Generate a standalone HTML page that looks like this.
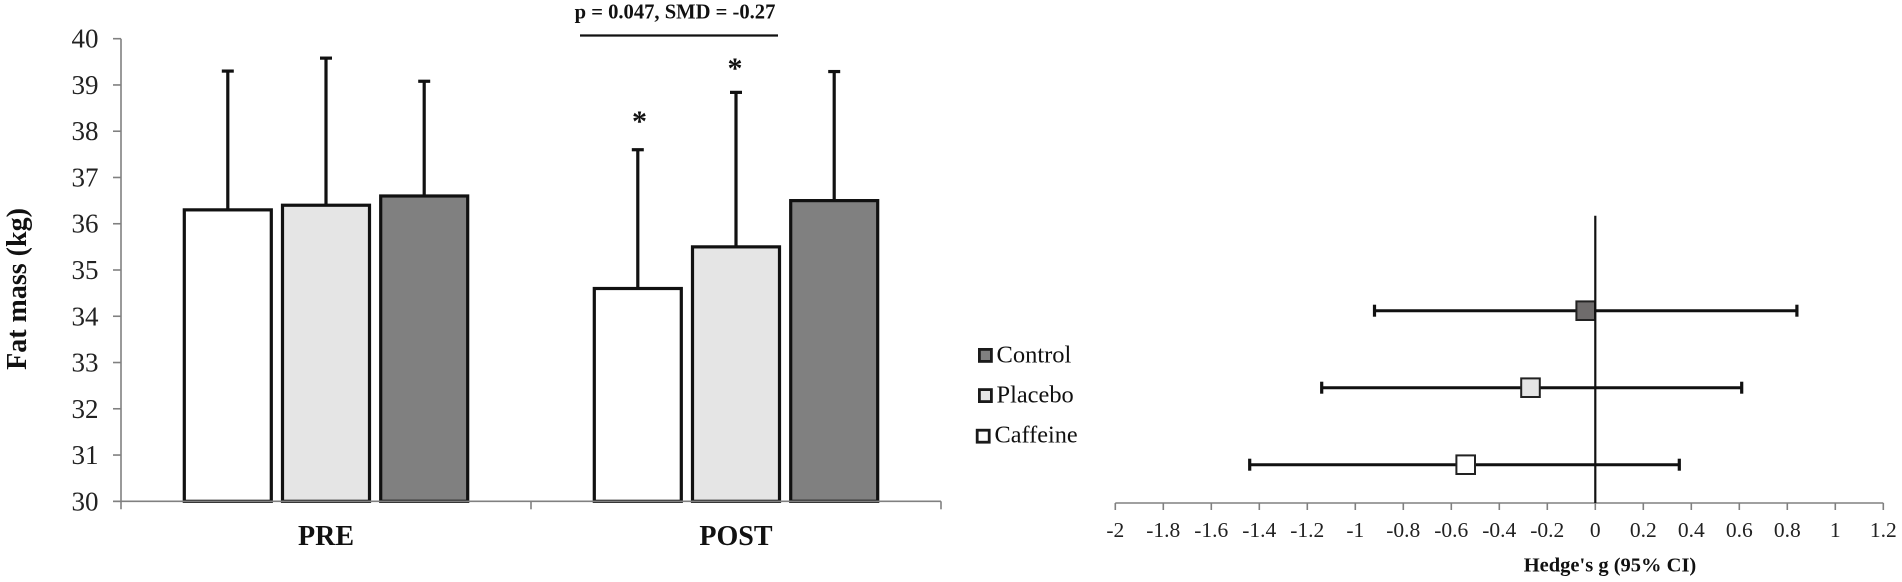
<!DOCTYPE html>
<html lang="en">
<head>
<meta charset="utf-8">
<title>Fat mass and Hedge's g</title>
<style>
html,body{margin:0;padding:0;background:#fff;width:1902px;height:582px;overflow:hidden}
svg{display:block;font-family:"Liberation Serif",serif;filter:blur(0.35px)}
</style>
</head>
<body>
<svg id="figure" width="1902" height="582" viewBox="0 0 1902 582" xmlns="http://www.w3.org/2000/svg">
  <g id="bar-chart"></g>
  <g id="forest-plot"></g>

  <text transform="translate(26,289) rotate(-90)" text-anchor="middle" font-size="28" font-weight="bold" fill="#111">Fat mass (kg)</text>
  <text x="675" y="18.5" text-anchor="middle" font-size="20.6" font-weight="bold" fill="#111">p = 0.047, SMD = -0.27</text>
  <line x1="580" y1="35.5" x2="778" y2="35.5" stroke="#111" stroke-width="2.2"/>
  <text x="639.5" y="131" text-anchor="middle" font-size="30" font-weight="bold" fill="#111">*</text>
  <text x="735" y="78" text-anchor="middle" font-size="30" font-weight="bold" fill="#111">*</text>

  <g>
    <g>
      <rect x="979.4" y="349.4" width="12" height="12" fill="#808080" stroke="#1a1a1a" stroke-width="2.8"/>
      <text x="996.5" y="362.5" font-size="24.5" fill="#111">Control</text>
    </g>
    <g>
      <rect x="979.4" y="389.6" width="12" height="12" fill="#e5e5e5" stroke="#1a1a1a" stroke-width="2.8"/>
      <text x="996.5" y="402.5" font-size="24.4" fill="#111">Placebo</text>
    </g>
    <g>
      <rect x="977.2" y="430.2" width="12" height="12" fill="#ffffff" stroke="#1a1a1a" stroke-width="2.8"/>
      <text x="994.5" y="442.5" font-size="24.3" fill="#111">Caffeine</text>
    </g>
  </g>

  <text x="1610" y="571.5" text-anchor="middle" font-size="20.5" font-weight="bold" fill="#111">Hedge's g (95% CI)</text>
</svg>

<script>
// Bar chart data
const barCategories = ['PRE', 'POST'];
const barSeriesNames = ['caffeine', 'placebo', 'control'];
const caffeineMeans = [36.3, 34.6];
const placeboMeans = [36.4, 35.5];
const controlMeans = [36.6, 36.5];
const caffeineErrors = [3.0, 3.0];
const placeboErrors = [3.18, 3.34];
const controlErrors = [2.48, 2.79];
const barYTicks = [30, 31, 32, 33, 34, 35, 36, 37, 38, 39, 40];

// Forest plot data
const forestGroups = ['control', 'placebo', 'caffeine'];
const forestEffects = [-0.04, -0.27, -0.54];
const forestLower = [-0.92, -1.14, -1.44];
const forestUpper = [0.84, 0.61, 0.35];
const forestXTicks = [-2, -1.8, -1.6, -1.4, -1.2, -1, -0.8, -0.6, -0.4, -0.2, 0, 0.2, 0.4, 0.6, 0.8, 1, 1.2];

const NS = 'http://www.w3.org/2000/svg';
function make(parent, tag, attrs) {
  const el = document.createElementNS(NS, tag);
  for (const k in attrs) el.setAttribute(k, attrs[k]);
  parent.appendChild(el);
  return el;
}

// ----- Bar chart -----
const barGroup = document.getElementById('bar-chart');
const barMeans = [caffeineMeans, placeboMeans, controlMeans];
const barErrors = [caffeineErrors, placeboErrors, controlErrors];
const barFills = ['#ffffff', '#e5e5e5', '#808080'];
const plotLeft = 121, plotRight = 941, plotTop = 38.7, plotBottom = 501.3;
const yMin = barYTicks[0], yMax = barYTicks[barYTicks.length - 1];
function yScale(v) { return plotBottom - (v - yMin) / (yMax - yMin) * (plotBottom - plotTop); }
const catWidth = (plotRight - plotLeft) / barCategories.length;
function xCat(i) { return plotLeft + catWidth * (i + 0.5); }
function xBar(c, s) { return xCat(c) + (s - (barSeriesNames.length - 1) / 2) * 98.2; }
const barW = 87;

barCategories.forEach(function (cat, c) {
  barSeriesNames.forEach(function (name, s) {
    const cx = xBar(c, s);
    const top = yScale(barMeans[s][c]);
    const errTop = yScale(barMeans[s][c] + barErrors[s][c]);
    const stem = make(barGroup, 'line', { x1: cx, x2: cx, y1: top, y2: errTop, stroke: '#111', 'stroke-width': 3.2 });
    
    
    const cap = make(barGroup, 'line', { x1: cx - 6, x2: cx + 6, y1: errTop, y2: errTop, stroke: '#111', 'stroke-width': 3.2 });
    
    
    const bar = make(barGroup, 'rect', { x: cx - barW / 2, y: top, width: barW, height: plotBottom - top, fill: barFills[s], stroke: '#111', 'stroke-width': 3.2 });
    
    
  });
  const label = make(barGroup, 'text', { x: xCat(c), y: 545, 'text-anchor': 'middle', 'font-size': 28, 'font-weight': 'bold', fill: '#111' });
  label.textContent = cat;
  
  
});

const yAxisLine = make(barGroup, 'line', { x1: plotLeft, x2: plotLeft, y1: plotTop, y2: plotBottom + 8, stroke: '#808080', 'stroke-width': 1.6 });


const xAxisLine = make(barGroup, 'line', { x1: 113, x2: plotRight, y1: plotBottom, y2: plotBottom, stroke: '#808080', 'stroke-width': 1.6 });



barYTicks.forEach(function (t) {
  const y = yScale(t);
  const tick = make(barGroup, 'line', { x1: 113, x2: plotLeft, y1: y, y2: y, stroke: '#808080', 'stroke-width': 1.6 });
  
  
  const label = make(barGroup, 'text', { x: 98.5, y: y + 9, 'text-anchor': 'end', 'font-size': 27, fill: '#222' });
  label.textContent = t;
  
  
});
for (let i = 1; i <= barCategories.length; i++) {
  const x = plotLeft + catWidth * i;
  const tick = make(barGroup, 'line', { x1: x, x2: x, y1: plotBottom, y2: plotBottom + 8, stroke: '#808080', 'stroke-width': 1.6 });
  
  
}

// ----- Forest plot -----
const forestGroup = document.getElementById('forest-plot');
const forestFills = ['#6f6c6c', '#e5e5e5', '#ffffff'];
const forestLeft = 1115.3, forestRight = 1883.3, forestAxisY = 503;
const fMin = forestXTicks[0], fMax = forestXTicks[forestXTicks.length - 1];
function xForest(v) { return forestLeft + (v - fMin) / (fMax - fMin) * (forestRight - forestLeft); }
function yForest(i) { return 310.7 + i * 77; }

const fAxis = make(forestGroup, 'line', { x1: forestLeft, x2: forestRight, y1: forestAxisY, y2: forestAxisY, stroke: '#808080', 'stroke-width': 1.6 });


forestXTicks.forEach(function (t) {
  const x = xForest(t);
  const tick = make(forestGroup, 'line', { x1: x, x2: x, y1: forestAxisY, y2: forestAxisY + 7, stroke: '#808080', 'stroke-width': 1.6 });
  
  
  const label = make(forestGroup, 'text', { x: x, y: 537, 'text-anchor': 'middle', 'font-size': 21.5, fill: '#222' });
  label.textContent = t;
  
  
});

forestGroups.forEach(function (name, i) {
  const y = yForest(i);
  const ci = make(forestGroup, 'line', { x1: xForest(forestLower[i]), x2: xForest(forestUpper[i]), y1: y, y2: y, stroke: '#111', 'stroke-width': 3 });
  
  
  [forestLower[i], forestUpper[i]].forEach(function (v) {
    const cap = make(forestGroup, 'line', { x1: xForest(v), x2: xForest(v), y1: y - 6, y2: y + 6, stroke: '#111', 'stroke-width': 3.2 });
    
    
  });
  const mark = make(forestGroup, 'rect', { x: xForest(forestEffects[i]) - 9.3, y: y - 9.3, width: 18.6, height: 18.6, fill: forestFills[i], stroke: '#222', 'stroke-width': 2 });
  
  
});

const zeroLine = make(forestGroup, 'line', { x1: xForest(0), x2: xForest(0), y1: 215.7, y2: forestAxisY, stroke: '#111', 'stroke-width': 2.2 });


</script>
</body>
</html>
